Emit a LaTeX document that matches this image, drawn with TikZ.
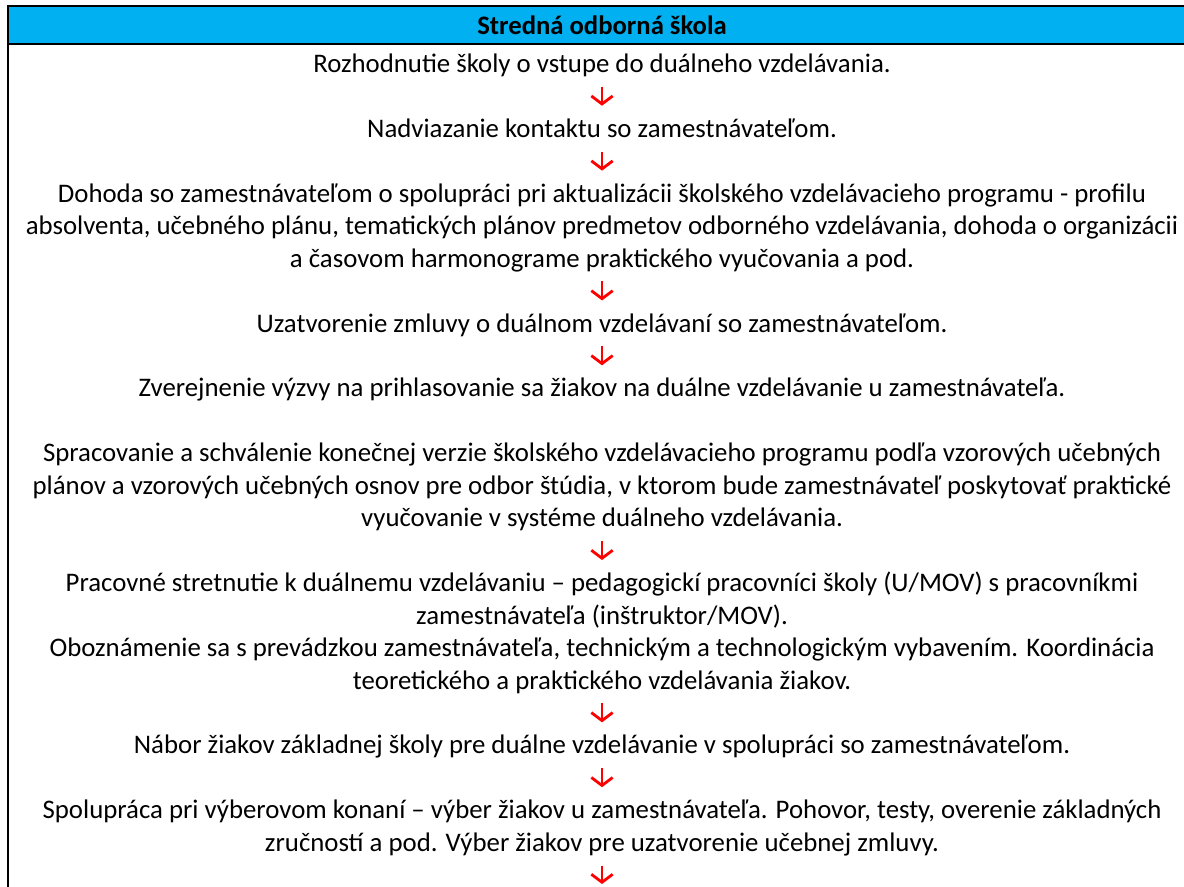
\documentclass[tikz,border=0pt]{standalone}
\usepackage{fontspec}
\setmainfont{Carlito}
\usetikzlibrary{arrows.meta}
\definecolor{hdrblue}{HTML}{00B0F0}
\definecolor{arrred}{HTML}{FF0000}
\newcommand{\lnst}{\strut}
\begin{document}
\begin{tikzpicture}[x=0.75pt,y=-0.75pt,
  txt/.style={font=\fontsize{20.1}{24.34}\selectfont, align=center, inner sep=0pt, anchor=north},
  hdrtxt/.style={font=\fontsize{20}{24}\selectfont\bfseries, inner sep=0pt},
  frame/.style={line width=1.9pt, draw=black},
  flow/.style={draw=arrred, line width=2.1pt, -{Straight Barb[length=6pt,width=16pt,line width=2.1pt]},
    shorten <=3.2pt, shorten >=6.5pt}]
\useasboundingbox (0,0) rectangle (1184,887);
\clip (0,0) rectangle (1184,887);
% header and frame
\fill[hdrblue] (8,6) rectangle (1200,44);
\draw[frame] (1200,6) -- (8,6) -- (8,900);
\draw[frame] (8,44) -- (1200,44);
\node[hdrtxt] (h) at (602,25) {Stredná odborná škola};
% steps
\node[txt] (r1) at (602,49.5) {\lnst Rozhodnutie školy o vstupe do duálneho vzdelávania.\lnst};
\node[txt] (r2) at (602,114.4) {\lnst Nadviazanie kontaktu so zamestnávateľom.\lnst};
\node[txt] (r3) at (602,179.3) {\lnst Dohoda so zamestnávateľom o spolupráci pri aktualizácii školského vzdelávacieho programu - profilu\\
\lnst absolventa, učebného plánu, tematických plánov predmetov odborného vzdelávania, dohoda o organizácii\\
\lnst a časovom harmonograme praktického vyučovania a pod.};
\node[txt] (r4) at (602,309.1) {\lnst Uzatvorenie zmluvy o duálnom vzdelávaní so zamestnávateľom.};
\node[txt] (r5) at (602,374.0) {\lnst Zverejnenie výzvy na prihlasovanie sa žiakov na duálne vzdelávanie u zamestnávateľa.};
\node[txt] (r6) at (602,438.9) {\lnst Spracovanie a schválenie konečnej verzie školského vzdelávacieho programu podľa vzorových učebných\\
\lnst plánov a vzorových učebných osnov pre odbor štúdia, v ktorom bude zamestnávateľ poskytovať praktické\\
\lnst vyučovanie v systéme duálneho vzdelávania.};
\node[txt] (r7) at (602,568.7) {\lnst Pracovné stretnutie k duálnemu vzdelávaniu – pedagogickí pracovníci školy (U/MOV) s pracovníkmi\\
\lnst zamestnávateľa (inštruktor/MOV).\\
\lnst Oboznámenie sa s prevádzkou zamestnávateľa, technickým a technologickým vybavením. Koordinácia\\
\lnst teoretického a praktického vzdelávania žiakov.};
\node[txt] (r8) at (602,731.0) {\lnst Nábor žiakov základnej školy pre duálne vzdelávanie v spolupráci so zamestnávateľom.};
\node[txt] (r9) at (602,795.9) {\lnst Spolupráca pri výberovom konaní – výber žiakov u zamestnávateľa. Pohovor, testy, overenie základných\\
\lnst zručností a pod. Výber žiakov pre uzatvorenie učebnej zmluvy.};
\coordinate (next) at (602,884);
% arrows
\draw[flow] (r1) -- (r2);
\draw[flow] (r2) -- (r3);
\draw[flow] (r3) -- (r4);
\draw[flow] (r4) -- (r5);
\draw[flow] (r6) -- (r7);
\draw[flow] (r7) -- (r8);
\draw[flow] (r8) -- (r9);
\draw[flow, shorten >=0pt] (r9) -- (next);
\end{tikzpicture}
\end{document}
